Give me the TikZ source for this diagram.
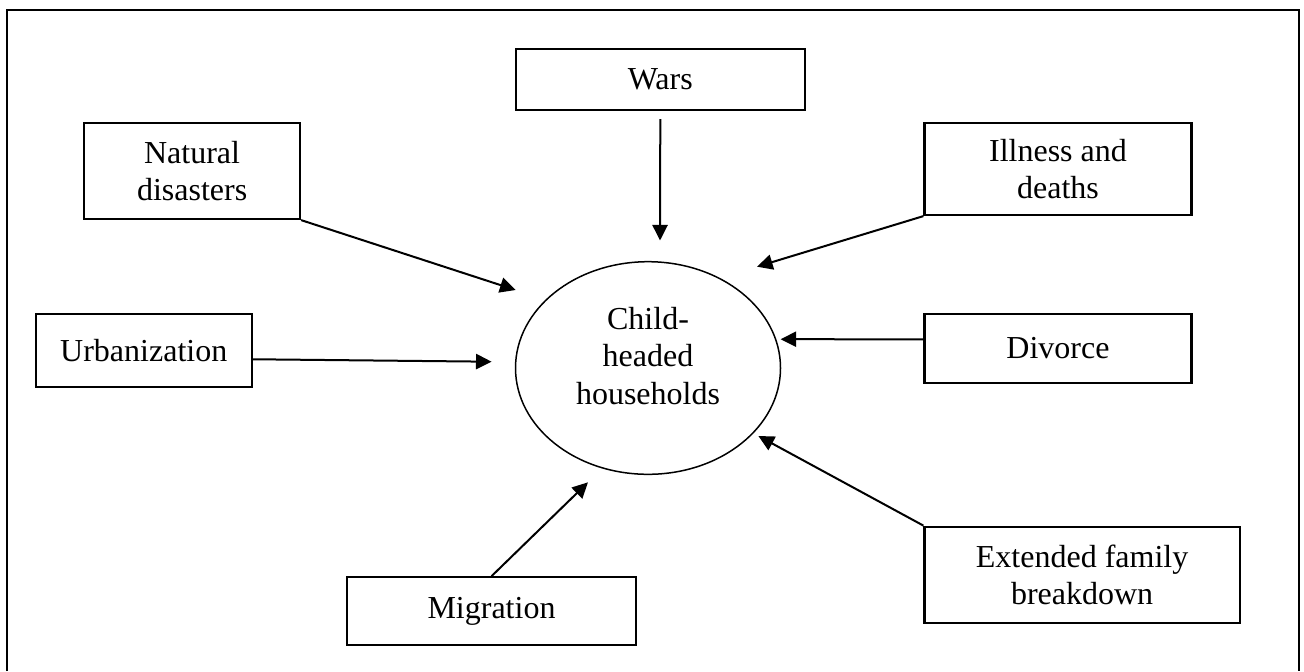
\documentclass[tikz,border=0pt]{standalone}
\usepackage{fontspec}
\setmainfont{Liberation Serif}
\usetikzlibrary{shapes.geometric,arrows.meta}
\begin{document}
\begin{tikzpicture}[x=0.5pt,y=-0.5pt,
  txt/.style={font=\fontsize{16pt}{18.8pt}\selectfont, align=center, inner sep=0pt},
  box/.style={txt, draw, line width=1.1pt, rectangle},
  ell/.style={draw, ellipse, line width=0.75pt, inner sep=0pt, minimum width=132.5pt, minimum height=106.3pt},
  arr/.style={-{Triangle[length=7.8pt,width=7.6pt]}, line width=1pt}]
\useasboundingbox (0,0) rectangle (1304,671);
% outer frame (bottom cut off)
\draw[line width=1.2pt] (7,671) -- (7,10) -- (1299,10) -- (1299,671);

% central ellipse
\node[ell] (chh) at (648,368) {};
\node[txt] (chht) at (648,356) {Child-\\headed\\households};

% boxes
\node[box, minimum width=144.7pt, minimum height=30.35pt] (wars) at (660.3,79.7) {Wars};
\node[box, minimum width=107.9pt, minimum height=48.15pt] (nat) at (192.1,170.85) {Natural\\disasters};
\node[box, minimum width=133.5pt, minimum height=46.15pt] (ill) at (1058,168.85) {Illness and\\deaths};
\node[box, minimum width=107.95pt, minimum height=36.65pt] (urb) at (143.75,350.65) {Urbanization};
\node[box, minimum width=133.5pt, minimum height=34.2pt] (div) at (1058,348.5) {Divorce};
\node[box, minimum width=157.6pt, minimum height=48pt] (ext) at (1082.1,574.7) {Extended family\\breakdown};
\node[box, minimum width=144.5pt, minimum height=34pt] (mig) at (491.5,611.3) {Migration};

% arrow tips
\coordinate (tw) at (660,240.5);
\coordinate (tn) at (515.6,290);
\coordinate (ti) at (757,266.7);
\coordinate (tu) at (491.6,361.7);
\coordinate (td) at (780.6,339.2);
\coordinate (te) at (758.4,436);
\coordinate (tm) at (588,482.3);

% arrows
\draw[arr] ([yshift=-4pt]wars.south) -- (tw);
\draw[arr] (nat.south east) -- (tn);
\draw[arr] (ill.south west) -- (ti);
\draw[arr] ([yshift=-4.3pt]urb.east) -- (tu);
\draw[arr] ([yshift=4.6pt]div.west) -- (td);
\draw[arr] (ext.north west) -- (te);
\draw[arr] (mig.north) -- (tm);
\end{tikzpicture}
\end{document}
